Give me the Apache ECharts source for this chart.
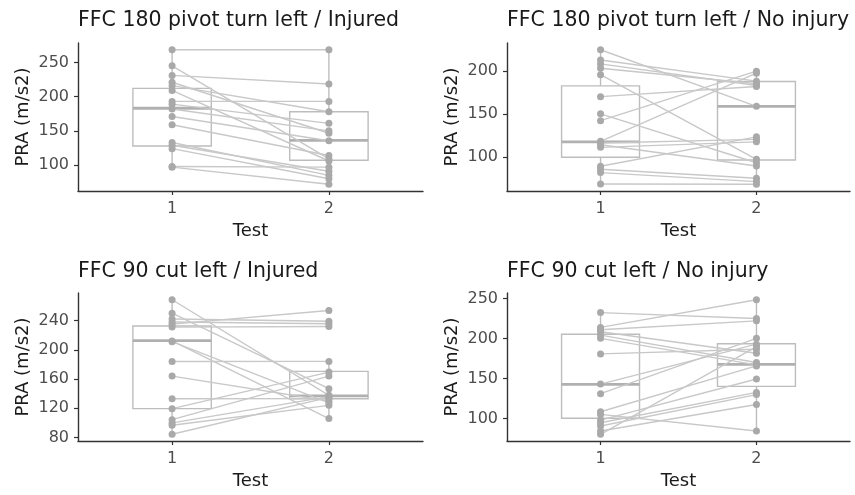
<!DOCTYPE html>
<html><head><meta charset="utf-8">
<script src="https://cdn.jsdelivr.net/npm/echarts@6/dist/echarts.min.js"></script>
<style>html,body{margin:0;padding:0;background:#fff}#c{width:855px;height:495px}</style>
</head><body><div id="c"></div>
<script>
// ---- data ----
const tests = [1, 2];
const panelTitles = [
  'FFC 180 pivot turn left / Injured',
  'FFC 180 pivot turn left / No injury',
  'FFC 90 cut left / Injured',
  'FFC 90 cut left / No injury'
];
const yLabel = 'PRA (m/s2)';
const xLabel = 'Test';

// paired subject values (test 1 -> test 2)
const p1Test1 = [268.5, 245, 231, 221, 216, 209, 193, 189, 182, 171, 159, 133, 129, 124, 98, 97];
const p1Test2 = [268.5, 109, 218.5, 146.5, 178, 106, 193, 161, 150, 135.5, 114, 85, 91, 80, 97, 72];
const p2Test1 = [224.6, 212.7, 208.1, 203, 195.5, 170, 150, 142, 118, 116, 114, 111, 89, 85.5, 81.6, 68.4];
const p2Test2 = [158.7, 188, 183, 185, 97, 181.8, 93.1, 199.6, 197.3, 120.2, 89.3, 117.4, 123.2, 75, 71.1, 68];
const p3Test1 = [268.4, 250, 242, 238, 235, 231, 212, 211, 184, 164, 133, 119.5, 104.5, 100, 96.8, 84.5];
const p3Test2 = [137.7, 146.8, 239, 235.5, 253.6, 231.8, 105.9, 127.3, 184.1, 130, 133.2, 169.5, 164, 136, 124, 135];
const p4Test1 = [232.6, 214, 211, 208.5, 204.4, 200.3, 180.8, 143, 131, 108.3, 105, 97.9, 94.6, 90.5, 84.2, 80.1];
const p4Test2 = [225.1, 248.7, 222.2, 181.6, 170, 167, 186.6, 193, 200.3, 165.8, 84.2, 149.3, 132.6, 129.8, 117.4, 190];

// box summaries [lower whisker, q1, median, q3, upper whisker] for test 1 and test 2
const p1Box = [[97, 128, 183, 212, 268.5], [72, 107, 136, 178, 268.5]];
const p2Box = [[68.4, 99.5, 117.4, 182.5, 224.6], [68, 96.2, 158.7, 187.6, 199.6]];
const p3Box = [[84.5, 119.5, 212.5, 232.5, 268.4], [105.9, 133, 137, 170.5, 184.1]];
const p4Box = [[80.1, 100.2, 142.6, 205.4, 232.6], [84.2, 140.1, 167.6, 193.6, 248.7]];

// y tick labels
const p1Ticks = [100, 150, 200, 250];
const p2Ticks = [100, 150, 200];
const p3Ticks = [80, 120, 160, 200, 240];
const p4Ticks = [100, 150, 200, 250];

// ---- chart ----
const FONT = 'DejaVu Sans';
const panels = [
  {t1: p1Test1, t2: p1Test2, box: p1Box, ticks: p1Ticks},
  {t1: p2Test1, t2: p2Test2, box: p2Box, ticks: p2Ticks},
  {t1: p3Test1, t2: p3Test2, box: p3Box, ticks: p3Ticks},
  {t1: p4Test1, t2: p4Test2, box: p4Box, ticks: p4Ticks}
];
const grids = [
  {left: 78, top: 43, width: 345, height: 148},
  {left: 507, top: 43, width: 343, height: 148},
  {left: 78, top: 293, width: 345, height: 148},
  {left: 507, top: 293, width: 343, height: 148}
];
const titlePos = [[78, 21], [507, 21], [78, 272], [507, 272]];

const axisColor = '#333333';
const textColor = '#4d4d4d';
const boxColor = '#bdbdbd';
const lineColor = '#c8c8c8';
const pointColor = '#a9a9a9';

const xAxes = [], yAxes = [], series = [], graphics = [];
panels.forEach((p, i) => {
  const all = p.t1.concat(p.t2);
  const lo = Math.min(...all), hi = Math.max(...all);
  const pad = (hi - lo) * 0.05;
  xAxes.push({
    gridIndex: i, type: 'value', min: 0.4, max: 2.6,
    splitLine: {show: false},
    axisLine: {show: true, onZero: false, lineStyle: {color: axisColor, width: 1.4}},
    axisTick: {show: true, customValues: tests, length: 4, lineStyle: {color: axisColor, width: 1.2}},
    axisLabel: {customValues: tests, margin: 10, fontSize: 16, color: textColor, fontFamily: FONT},
    name: xLabel, nameLocation: 'middle', nameGap: 31,
    nameTextStyle: {fontSize: 18, color: '#1a1a1a', fontFamily: FONT}
  });
  yAxes.push({
    gridIndex: i, type: 'value', min: lo - pad, max: hi + pad,
    splitLine: {show: false},
    axisLine: {show: true, onZero: false, lineStyle: {color: axisColor, width: 1.4}},
    axisTick: {show: true, customValues: p.ticks, length: 4, lineStyle: {color: axisColor, width: 1.2}},
    axisLabel: {customValues: p.ticks, margin: 9, fontSize: 16, color: textColor, fontFamily: FONT},
    name: yLabel, nameLocation: 'middle', nameGap: 46, nameRotate: 90,
    nameTextStyle: {fontSize: 18, color: '#1a1a1a', fontFamily: FONT}
  });
  // boxes
  series.push({
    type: 'custom', xAxisIndex: i, yAxisIndex: i, silent: true, z: 1,
    data: p.box.map((b, k) => [tests[k]].concat(b)),
    encode: {x: 0, y: [1, 2, 3, 4, 5]},
    renderItem: (params, api) => {
      const x = api.value(0);
      const wl = api.value(1), q1 = api.value(2), md = api.value(3), q3 = api.value(4), wh = api.value(5);
      const hw = 0.25;
      const tl = api.coord([x - hw, q3]);
      const br = api.coord([x + hw, q1]);
      const m0 = api.coord([x - hw, md]);
      const m1 = api.coord([x + hw, md]);
      const top = api.coord([x, wh]);
      const bot = api.coord([x, wl]);
      const st = {stroke: boxColor, fill: 'none', lineWidth: 1.4};
      return {type: 'group', children: [
        {type: 'line', shape: {x1: top[0], y1: top[1], x2: top[0], y2: tl[1]}, style: st},
        {type: 'line', shape: {x1: bot[0], y1: br[1], x2: bot[0], y2: bot[1]}, style: st},
        {type: 'rect', shape: {x: tl[0], y: tl[1], width: br[0] - tl[0], height: br[1] - tl[1]}, style: st},
        {type: 'line', shape: {x1: m0[0], y1: m0[1], x2: m1[0], y2: m1[1]}, style: {stroke: '#b0b0b0', lineWidth: 2.8}}
      ]};
    }
  });
  // paired lines
  p.t1.forEach((v, k) => {
    series.push({
      type: 'line', xAxisIndex: i, yAxisIndex: i, silent: true, z: 2,
      symbol: 'none', lineStyle: {color: lineColor, width: 1.4},
      data: [[tests[0], v], [tests[1], p.t2[k]]]
    });
  });
  // points
  series.push({
    type: 'scatter', xAxisIndex: i, yAxisIndex: i, silent: true, z: 3,
    symbolSize: 7, itemStyle: {color: pointColor, opacity: 1},
    data: p.t1.map(v => [tests[0], v]).concat(p.t2.map(v => [tests[1], v]))
  });
  graphics.push({
    type: 'text', x: titlePos[i][0], y: titlePos[i][1], silent: true,
    style: {text: panelTitles[i], fill: '#1a1a1a', font: '20.5px "DejaVu Sans"',
      textAlign: 'left', textVerticalAlign: 'middle', align: 'left', verticalAlign: 'middle'}
  });
});

const chart = echarts.init(document.getElementById('c'), null, {renderer: 'canvas'});
chart.setOption({
  animation: false,
  backgroundColor: '#ffffff',
  grid: grids,
  xAxis: xAxes,
  yAxis: yAxes,
  series: series,
  graphic: graphics
});
</script>
</body></html>
